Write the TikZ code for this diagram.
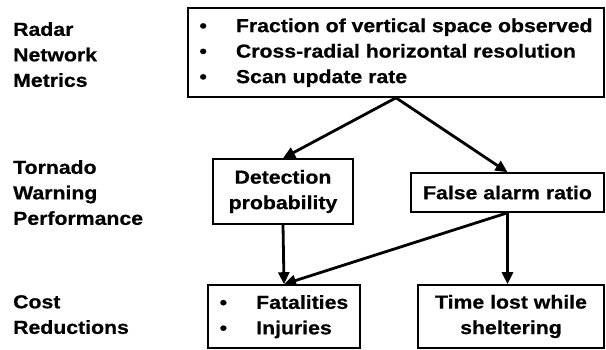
\documentclass[tikz,border=0pt]{standalone}
\usepackage{fontspec}
\setmainfont{Liberation Sans}[FakeStretch=1.13, BoldFeatures={FakeBold=0.6}]
\usetikzlibrary{arrows.meta}
\begin{document}
\begin{tikzpicture}[x=1pt,y=-1pt,
  txt/.style={font=\fontsize{18.8}{25.5}\selectfont\bfseries, inner sep=0pt},
  lab/.style={txt, align=left, anchor=north west},
  box/.style={draw, line width=1.6pt, txt, align=center},
  arr/.style={line width=2.8pt, -{Triangle[length=12pt,width=11pt]}}]
\useasboundingbox (0,0) rectangle (606,349);
% row labels
\node[lab] (l1) at (13,22) {Radar\\Network\\Metrics};
\node[lab] (l2) at (13,160) {Tornado\\Warning\\Performance};
\node[lab] (l3) at (13,295) {Cost\\Reductions};
% boxes
\node[box, minimum width=416pt, minimum height=89pt] (top) at (396,52.5)
  {\begin{tabular}{@{}l@{}}
   \makebox[36.5pt][l]{\textbullet}Fraction of vertical space observed\\
   \makebox[36.5pt][l]{\textbullet}Cross-radial horizontal resolution\\
   \makebox[36.5pt][l]{\textbullet}Scan update rate
   \end{tabular}};
\node[box, minimum width=140pt, minimum height=65pt] (det) at (283,191.5) {Detection\\probability};
\node[box, minimum width=193pt, minimum height=39pt] (far) at (507.5,192.5) {False alarm ratio};
\node[box, minimum width=152pt, minimum height=63pt] (fat) at (284,316.5)
  {\begin{tabular}{@{}l@{}}
   \makebox[36.5pt][l]{\textbullet}Fatalities\\
   \makebox[36.5pt][l]{\textbullet}Injuries
   \end{tabular}};
\node[box, minimum width=186pt, minimum height=63pt] (time) at (511,316.5) {Time lost while\\sheltering};
% connectors
\draw[arr] (top.south) -- (det.north);
\draw[arr] (top.south) -- (far.north);
\draw[arr] (det.south) -- (fat.north);
\draw[arr] (far.south) -- (fat.north);
\draw[arr] (far.south) -- (far.south |- time.north);
\end{tikzpicture}
\end{document}
